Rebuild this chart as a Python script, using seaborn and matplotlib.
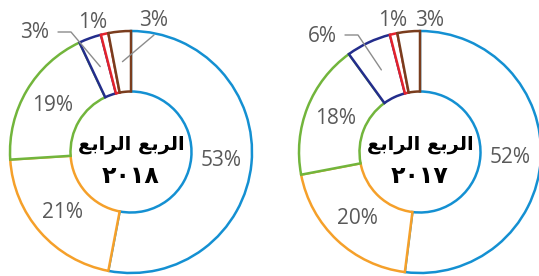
import numpy as np
import seaborn as sns
import matplotlib.pyplot as plt

sns.set_style("white")
plt.rcParams['font.family'] = ['Open Sans', 'DejaVu Sans']

# share of each segment, clockwise from 12 o'clock
q4_2018 = [53, 21, 19, 3, 1, 3]
q4_2017 = [52, 20, 18, 6, 1, 3]
seg_colors = ["#1490d2", "#f5a02a", "#72b53c", "#232d8c", "#e3222c", "#7a3d1e"]

# "الربع الرابع" in presentation forms, visual order (matplotlib has no bidi shaping)
quarter_label = "\uFECA\uFE91\uFE8D\uFEAE\uFEDF\uFE8D \uFECA\uFE91\uFEAE\uFEDF\uFE8D"
years = ["\u0662\u0660\u0661\u0668", "\u0662\u0660\u0661\u0667"]

R = 121
TXT = "#595959"


def draw_donut(ax, values, cx, cy, year, callouts):
    wedges, _ = ax.pie(values, colors=["white"] * len(values), startangle=90,
                       counterclock=False, radius=R, center=(cx, cy),
                       wedgeprops=dict(width=R * 0.5, linewidth=1.8))
    for w, c in zip(wedges, seg_colors):
        w.set_edgecolor(c)

    for i, (w, v) in enumerate(zip(wedges, values)):
        mid = np.deg2rad((w.theta1 + w.theta2) / 2)
        px, py = cx + 0.75 * R * np.cos(mid), cy + 0.75 * R * np.sin(mid)
        if i in callouts:
            dx, dy, leader = callouts[i]
            tx, ty = cx + dx, cy + dy
            ax.text(tx, ty, f"{v}%", ha="center", va="center", fontsize=15, color=TXT)
            if leader == "elbow":
                ax.plot([tx + 23, tx + 36, px], [ty + 1, ty + 1, py], color="#8c8c8c", lw=1)
            elif leader == "straight":
                ax.plot([tx, px], [ty - 15, py], color="#8c8c8c", lw=1)
        else:
            ax.text(px, py, f"{v}%", ha="center", va="center", fontsize=15, color=TXT)

    ax.text(cx, cy + 7, quarter_label, ha="center", va="center", fontsize=14,
            fontweight="bold", family="DejaVu Sans", color="black")
    ax.text(cx, cy - 24, year, ha="center", va="center", fontsize=17,
            fontweight="bold", family="DejaVu Sans", color="black")


fig = plt.figure(figsize=(5.39, 2.76), dpi=100)
ax = fig.add_axes([0, 0, 1, 1])

draw_donut(ax, q4_2018, 131, 124, years[0],
           {3: (-96, 119, "elbow"), 4: (-38, 129, None), 5: (23, 132, "straight")})
draw_donut(ax, q4_2017, 420, 124, years[1],
           {3: (-98, 116, "elbow"), 4: (-27, 132, None), 5: (10, 132, None)})

ax.set_xlim(0, 539)
ax.set_ylim(0, 276)
ax.set_aspect("equal")
ax.axis("off")

fig.savefig("out.png", dpi=100, facecolor="white")
